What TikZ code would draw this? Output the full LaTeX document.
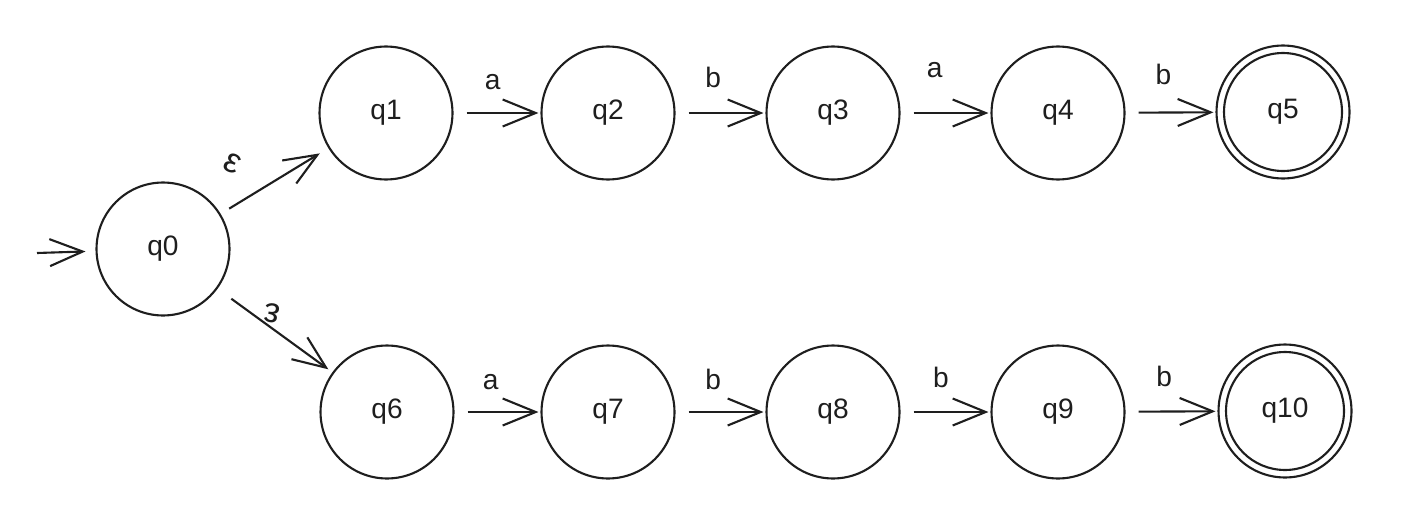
\documentclass[tikz,border=0pt]{standalone}
\usepackage{fontspec}
\setmainfont{Liberation Sans}
\usetikzlibrary{arrows.meta}
\definecolor{ink}{HTML}{1E1E1E}
\begin{document}
\begin{tikzpicture}[x=0.02cm,y=-0.02cm,
  state/.style={circle, draw=ink, line width=1.2pt, minimum size=2.66cm, inner sep=0pt, font=\fontsize{16}{18}\selectfont, text=ink},
  trans/.style={draw=ink, line width=1.2pt, -{Straight Barb[length=0.66cm,width=0.54cm,line width=1.2pt]}, shorten <=0.26cm, shorten >=0.04cm},
  lbl/.style={font=\fontsize{16}{18}\selectfont, text=ink},
  eps/.style={font=\fontsize{20}{22}\selectfont, text=ink},
  acc/.style={draw=ink, line width=1.2pt}]
\useasboundingbox (0,0) rectangle (1406,524);
% states
\node[state] (q0) at (163,249) {q0};
\node[state] (q1) at (386,113) {q1};
\node[state] (q2) at (608,113) {q2};
\node[state] (q3) at (833,113) {q3};
\node[state] (q4) at (1058,113) {q4};
\node[state] (q5) at (1283,112) {q5};
\node[state] (q6) at (387,412) {q6};
\node[state] (q7) at (608,412) {q7};
\node[state] (q8) at (833,412) {q8};
\node[state] (q9) at (1058,412) {q9};
\node[state] (q10) at (1285,411) {q10};
\draw[acc] (q5.center) circle (1.18cm);
\draw[acc] (q10.center) circle (1.18cm);
% initial
\coordinate (init) at (37,253);
\draw[trans, shorten <=0pt, shorten >=0.2cm] (init) -- (q0);
% epsilon transitions
\draw[trans, shorten <=0.2cm, shorten >=0.2cm] (q0) -- (q1);
\draw[trans, shorten <=0.34cm, shorten >=0.1cm] (q0) -- (q6);
\node[eps, rotate=-25] (e1) at (233,163) {ε};
\node[eps, rotate=170] (e2) at (272,313) {ε};
% top row
\draw[trans] (q1) -- node[lbl, pos=0.45, yshift=0.62cm] (l12) {a} (q2);
\draw[trans] (q2) -- node[lbl, pos=0.42, yshift=0.72cm] (l23) {b} (q3);
\draw[trans] (q3) -- node[lbl, pos=0.38, yshift=0.86cm] (l34) {a} (q4);
\draw[trans] (q4) -- node[lbl, pos=0.42, yshift=0.76cm] (l45) {b} (q5);
% bottom row
\draw[trans] (q6) -- node[lbl, pos=0.42, yshift=0.6cm] (l67) {a} (q7);
\draw[trans] (q7) -- node[lbl, pos=0.42, yshift=0.66cm] (l78) {b} (q8);
\draw[trans] (q8) -- node[lbl, pos=0.45, yshift=0.7cm] (l89) {b} (q9);
\draw[trans] (q9) -- node[lbl, pos=0.42, yshift=0.7cm] (l910) {b} (q10);
\end{tikzpicture}
\end{document}
